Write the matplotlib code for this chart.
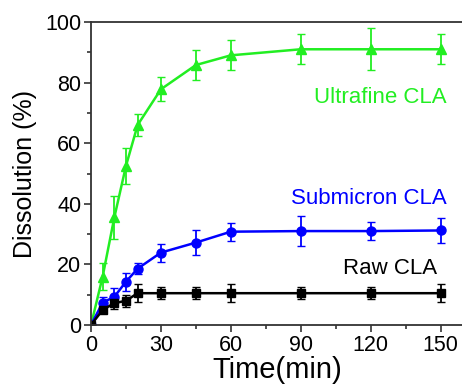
import numpy as np
import matplotlib.pyplot as plt

plt.rcParams['font.family'] = ['Liberation Sans', 'DejaVu Sans']

# время, мин
t = [0, 5, 10, 15, 20, 30, 45, 60, 90, 120, 150]

ultra = [0, 16, 35.5, 52.5, 66, 77.8, 85.8, 89, 91, 91, 91]
ultra_err = [0, 4.5, 7, 6, 3.5, 4, 5, 5, 5, 7, 5]

submicron = [0, 7.4, 9.3, 14.3, 18.6, 23.9, 27.2, 30.8, 31, 31, 31.2]
submicron_err = [0, 2, 3, 3, 1.8, 3, 4, 3, 5, 3, 4]

raw = [0, 5, 7.2, 8.0, 10.5, 10.5, 10.5, 10.5, 10.5, 10.5, 10.5]
raw_err = [0, 1, 2, 2, 3, 2, 2, 3, 2, 2, 3]

fig = plt.figure(figsize=(4.62, 3.86), dpi=100)
ax = fig.add_axes([0.197, 0.158, 0.807, 0.785])

green = '#22ee22'
ax.errorbar(t, ultra, yerr=ultra_err, color=green, marker='^', ms=7,
            lw=1.8, capsize=3, elinewidth=1.3)
ax.errorbar(t, submicron, yerr=submicron_err, color='#0000ff', marker='o', ms=6.5,
            lw=1.8, capsize=3, elinewidth=1.3)
ax.errorbar(t, raw, yerr=raw_err, color='black', marker='s', ms=5.5,
            lw=1.8, capsize=3, elinewidth=1.3)

ax.text(152.5, 75.2, 'Ultrafine CLA', color=green, fontsize=16, ha='right', va='center')
ax.text(152.5, 41.6, 'Submicron CLA', color='#0000ff', fontsize=16, ha='right', va='center')
ax.text(148.7, 18.7, 'Raw CLA', color='black', fontsize=16, ha='right', va='center')

ax.set_xlim(0, 160)
ax.set_ylim(0, 100)
ax.set_xticks([0, 30, 60, 90, 120, 150])
ax.set_xticks(np.arange(15, 160, 30), minor=True)
ax.set_yticks([0, 20, 40, 60, 80, 100])
ax.set_yticks(np.arange(10, 100, 20), minor=True)
ax.tick_params(which='major', direction='out', length=5, width=1.2, pad=2,
               labelsize=15.5, colors='#333333', labelcolor='black')
ax.tick_params(which='minor', direction='out', length=3, width=1.2, colors='#333333')
for s in ax.spines.values():
    s.set_linewidth(1.3)
    s.set_color('#333333')

ax.set_xlabel('Time(min)', fontsize=21, labelpad=0.5)
ax.set_ylabel('Dissolution (%)', fontsize=18, labelpad=6)

fig.savefig('out.png', dpi=100)
